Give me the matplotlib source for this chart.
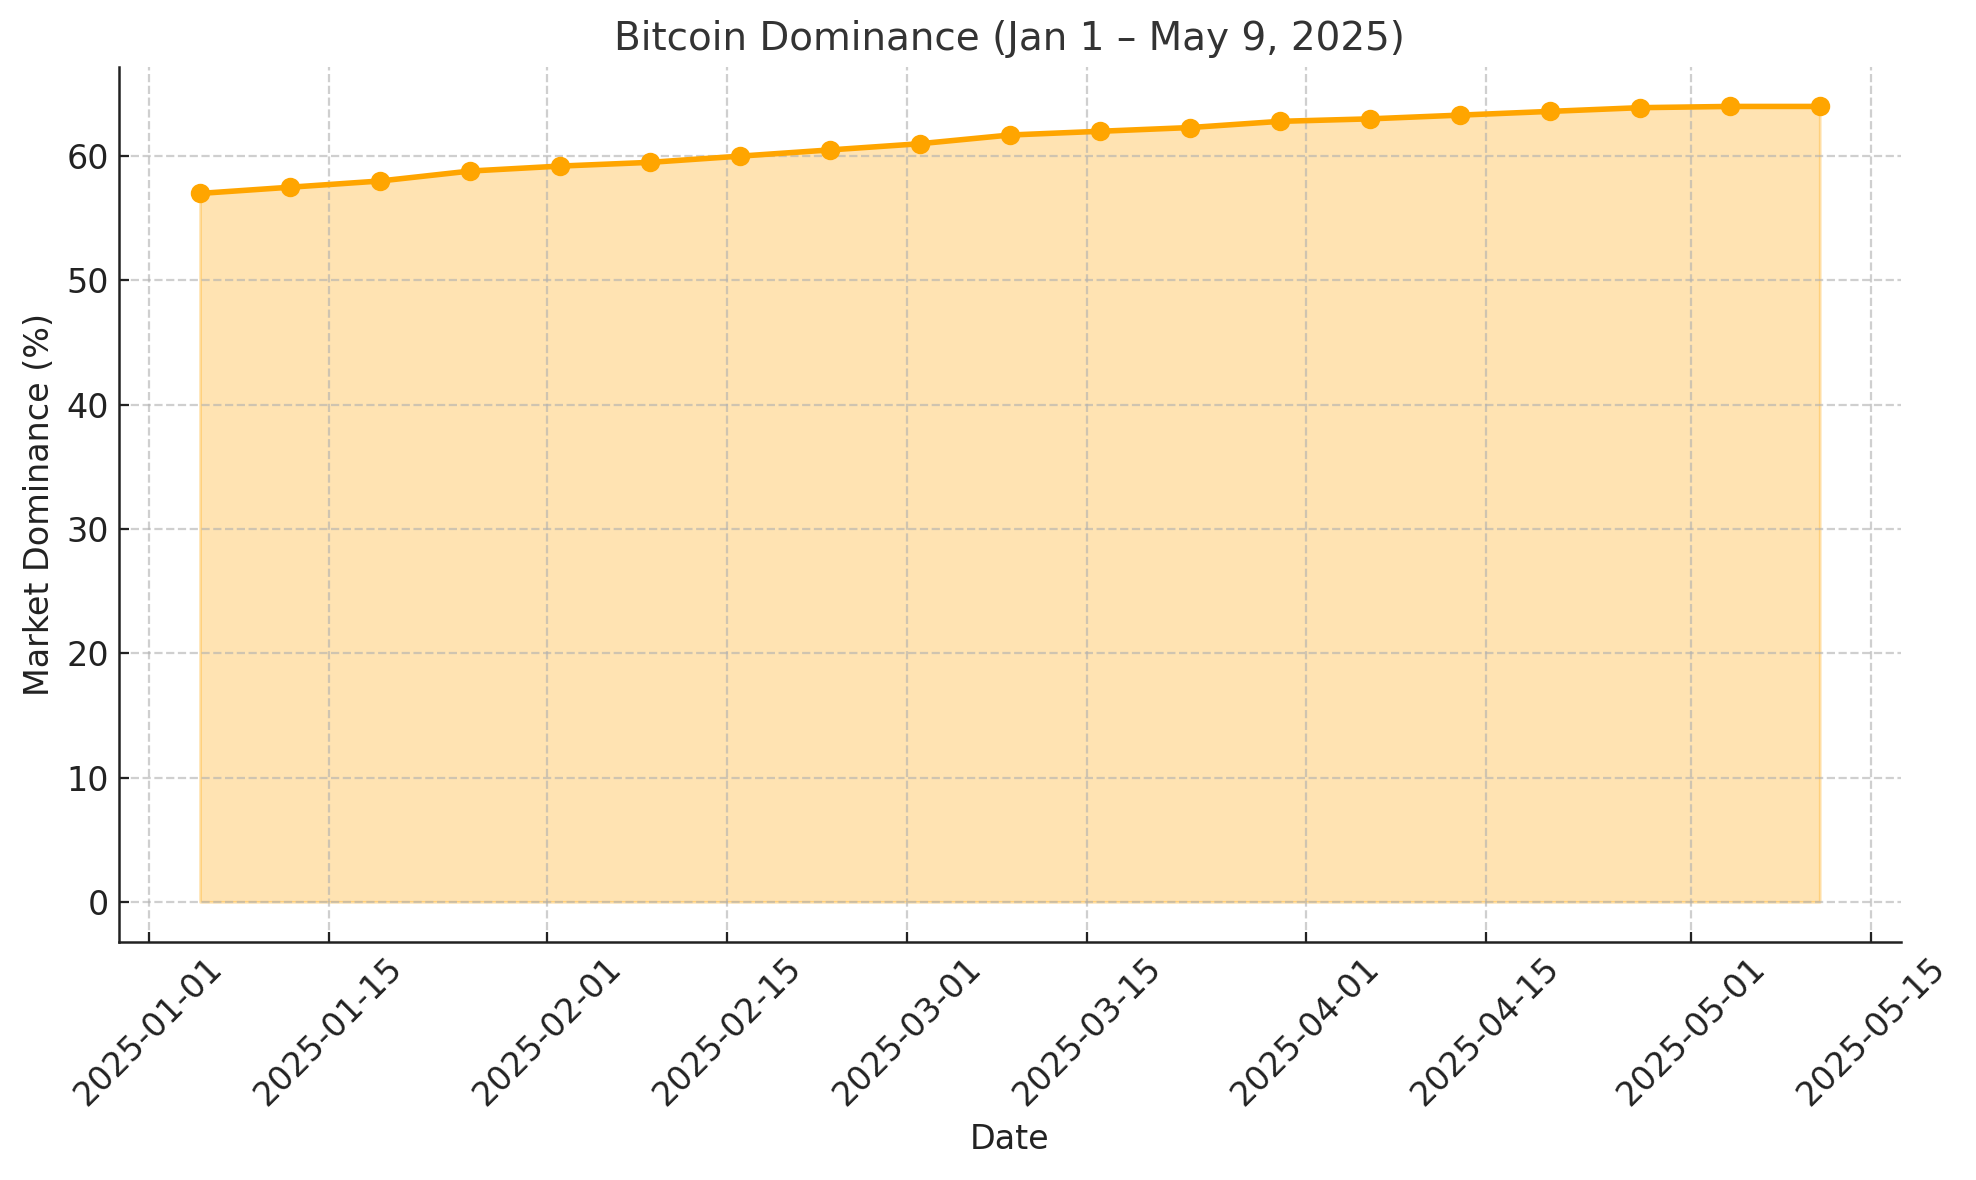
import pandas as pd
import matplotlib.pyplot as plt

dates = pd.date_range("2025-01-05", "2025-05-11", freq="W")
dominance = [57.0, 57.5, 58.0, 58.8, 59.2, 59.5, 60.0, 60.5, 61.0, 61.7,
             62.0, 62.3, 62.8, 63.0, 63.3, 63.6, 63.9, 64.0, 64.0]

plt.rcParams["font.size"] = 12
plt.rcParams["text.color"] = "#333333"
plt.rcParams["axes.labelcolor"] = "#222222"
plt.rcParams["xtick.color"] = "#222222"
plt.rcParams["ytick.color"] = "#222222"
plt.rcParams["xtick.direction"] = "in"
plt.rcParams["ytick.direction"] = "in"
plt.rcParams["axes.edgecolor"] = "#222222"
plt.rcParams["axes.linewidth"] = 0.9

fig, ax = plt.subplots(figsize=(9.88, 5.9))
ax.plot(dates, dominance, marker="o", color="orange", linewidth=2)
ax.fill_between(dates, dominance, color="orange", alpha=0.3)

ax.set_title("Bitcoin Dominance (Jan 1 \u2013 May 9, 2025)", fontsize=14)
ax.set_xlabel("Date")
ax.set_ylabel("Market Dominance (%)")
ax.grid(True, linestyle="--", alpha=0.6)
ax.spines["top"].set_visible(False)
ax.spines["right"].set_visible(False)
plt.xticks(rotation=45)

plt.tight_layout(pad=0.6)
plt.savefig("out.png", dpi=200)
